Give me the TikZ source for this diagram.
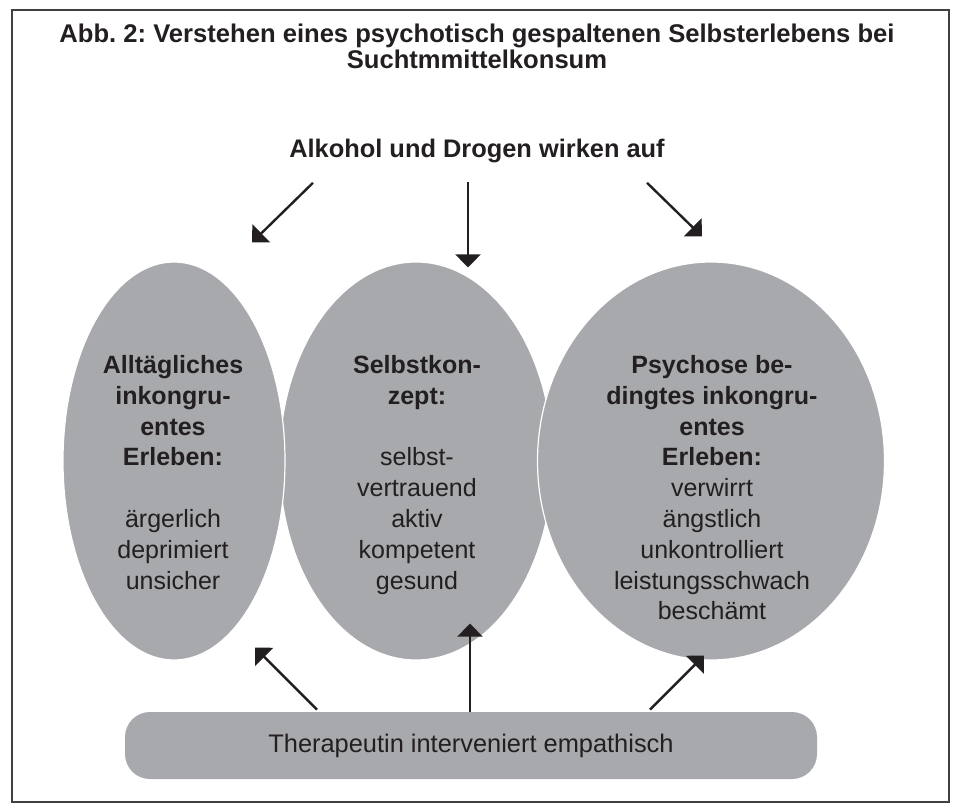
\documentclass[tikz,border=0pt]{standalone}
\usepackage{fontspec}
\setmainfont{Liberation Sans}
\frenchspacing
\usetikzlibrary{positioning,calc,shapes.geometric,arrows.meta}
\definecolor{bubblegray}{RGB}{167,169,172}
\definecolor{ink}{RGB}{35,31,32}
\tikzset{%
    feeling/.style={
      ellipse,
      fill=bubblegray,
      draw=white,
      line width=0.6pt,
      inner sep=0pt
    },
    feeling text/.style={
      anchor=north,
      align=center,
      inner sep=0pt,
      text=ink,
      font=\fontsize{12.5}{15.4}\selectfont
    },
    therapy/.style={
      rectangle,
      rounded corners=12.5pt,
      fill=bubblegray,
      minimum width=346pt,
      minimum height=33.5pt,
      text=ink,
      font=\fontsize{12.7}{15}\selectfont
    },
    arr/.style={
      -{Triangle[length=6.5pt,width=12.5pt]},
      line width=1.2pt,
      draw=ink
    }
  }
\begin{document}
\begin{tikzpicture}[x=0.5pt, y=-0.5pt]
      \useasboundingbox (0,0) rectangle (954,805);
      \draw[line width=1pt, draw=black!75] (12,10) rectangle (949,802);

      \node [align=center, anchor=north, inner sep=0pt, text=ink,
             font=\fontsize{12.8}{12.9}\selectfont\bfseries] (title) at (477,24)
            {Abb. 2: Verstehen eines psychotisch gespaltenen Selbsterlebens bei\\Suchtmmittelkonsum};
      \node [anchor=base, inner sep=0pt, text=ink,
             font=\fontsize{12.7}{15}\selectfont\bfseries] (alk) at (477,157)
            {Alkohol und Drogen wirken auf};

      % the three ways of experiencing
      \node [feeling, minimum width=136.5pt, minimum height=199pt] (selbst) at (416,461) {};
      \node [feeling, minimum width=111pt, minimum height=199pt] (alltag) at (174,461) {};
      \node [feeling, minimum width=173.5pt, minimum height=199pt] (psych) at (711,461) {};

      \node [feeling text] (alltag-txt) at (173,355)
            {\textbf{Alltägliches}\\\textbf{inkongru-}\\\textbf{entes}\\\textbf{Erleben:}\\[15.4pt]
             ärgerlich\\deprimiert\\unsicher};
      \node [feeling text] (selbst-txt) at (417,355)
            {\textbf{Selbstkon-}\\\textbf{zept:}\\[15.4pt]
             selbst-\\vertrauend\\aktiv\\kompetent\\gesund};
      \node [feeling text] (psych-txt) at (712,355)
            {\textbf{Psychose be-}\\\textbf{dingtes inkongru-}\\\textbf{entes}\\\textbf{Erleben:}\\
             verwirrt\\ängstlich\\unkontrolliert\\leistungsschwach\\beschämt};

      \node [therapy] (ther) at (471,745.5) {Therapeutin interveniert empathisch};

      \draw [arr] ($(alk.south)+(-164,20)$) -- ($(alltag.north)+(78,-19)$);
      \draw [arr] ($(alk.south)+(-9,19)$) -- ($(selbst.north)+(52,6)$);
      \draw [arr] ($(alk.south)+(170,20)$) -- ($(psych.north)+(-9,-25)$);

      \draw [arr] ($(ther.north)+(-154,-2)$) -- ($(alltag.south)+(81,-13)$);
      \draw [arr] ($(ther.north)+(-1,0)$) -- ($(selbst.south)+(54,-37)$);
      \draw [arr] ($(ther.north)+(179,-2)$) -- ($(psych.south)+(-7,-5)$);
\end{tikzpicture}
\end{document}
